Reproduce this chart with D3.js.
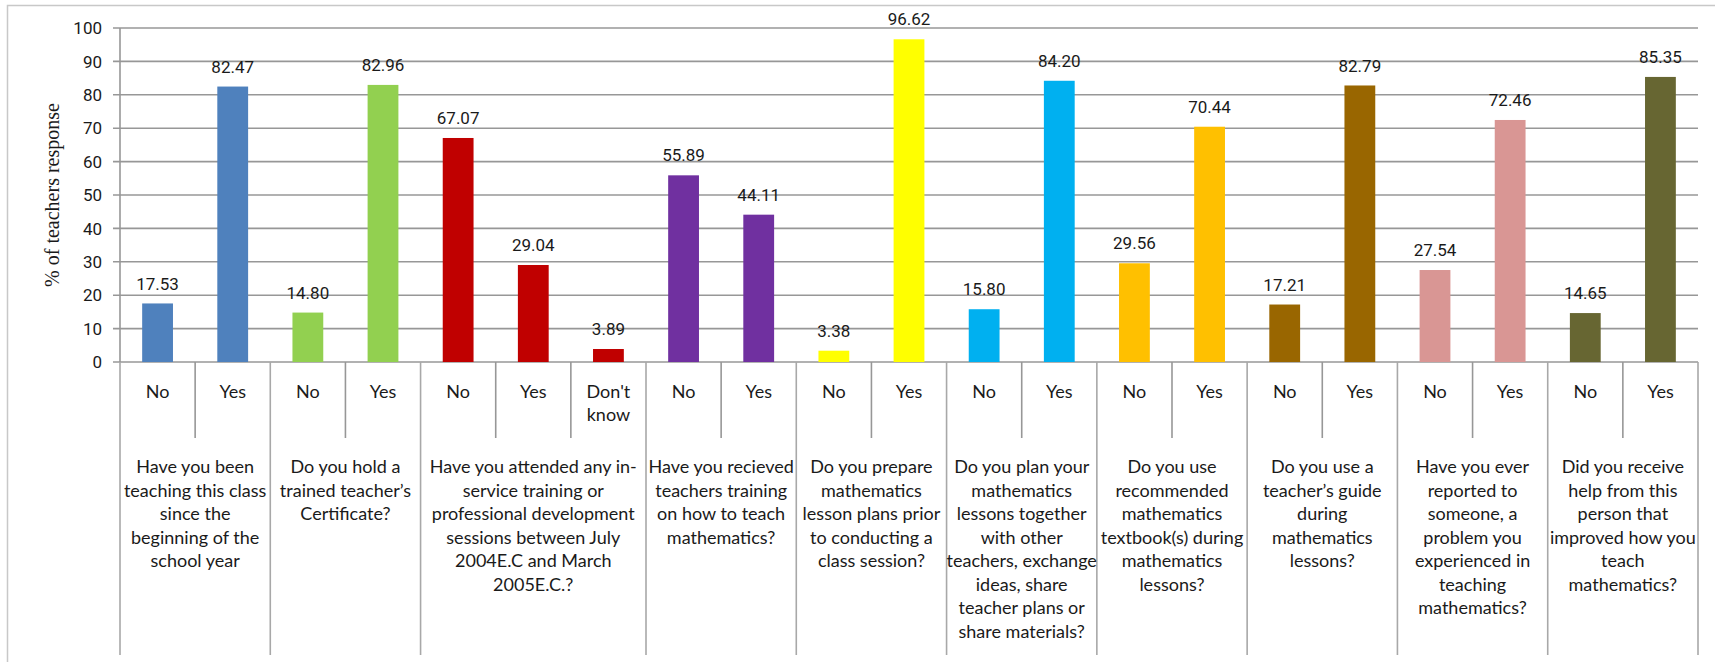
<!DOCTYPE html>
<html><head><meta charset="utf-8">
<script src="https://cdn.jsdelivr.net/npm/d3@7"></script>
<style>body{margin:0;background:#fff}svg{display:block}</style>
</head><body>
<svg id="c" width="1715" height="662"></svg>
<script>
const subLabels = [["No"],["Yes"],["No"],["Yes"],["No"],["Yes"],["Don't","know"],["No"],["Yes"],["No"],["Yes"],["No"],["Yes"],["No"],["Yes"],["No"],["Yes"],["No"],["Yes"],["No"],["Yes"]];
const values = [17.53,82.47,14.80,82.96,67.07,29.04,3.89,55.89,44.11,3.38,96.62,15.80,84.20,29.56,70.44,17.21,82.79,27.54,72.46,14.65,85.35];
const groupOf = [0,0,1,1,2,2,2,3,3,4,4,5,5,6,6,7,7,8,8,9,9];
const groupLabels = [
 ["Have you been","teaching this class","since the","beginning of the","school year"],
 ["Do you hold a","trained teacher’s","Certificate?"],
 ["Have you attended any in-","service training or","professional development","sessions between July","2004E.C and March","2005E.C.?"],
 ["Have you recieved","teachers training","on how to teach","mathematics?"],
 ["Do you prepare","mathematics","lesson plans prior","to conducting a","class session?"],
 ["Do you plan your","mathematics","lessons together","with other","teachers, exchange","ideas, share","teacher plans or","share materials?"],
 ["Do you use","recommended","mathematics","textbook(s) during","mathematics","lessons?"],
 ["Do you use a","teacher’s guide","during","mathematics","lessons?"],
 ["Have you ever","reported to","someone, a","problem you","experienced in","teaching","mathematics?"],
 ["Did you receive","help from this","person that","improved how you","teach","mathematics?"]
];
const groupColors = ["#4F81BD","#92D050","#C00000","#7030A0","#FFFF00","#00B0F0","#FFC000","#996600","#D99694","#676632"];
const yTicks = [0,10,20,30,40,50,60,70,80,90,100];
const yTitle = "% of teachers response";

const svg = d3.select("#c");
const L=120, R=1698, T=28, B=362;
const x = d3.scaleBand().domain(d3.range(values.length)).range([L,R]);
const y = d3.scaleLinear().domain([0,100]).range([B,T]);
const grid = "#979797";

// outer frame
svg.append("path").attr("d","M7.5,662 V5.5 H1715").attr("fill","none").attr("stroke","#c8c8c8").attr("stroke-width",1.5);

// gridlines
svg.append("g").selectAll("line").data(yTicks).join("line")
  .attr("x1",L-7).attr("x2",R).attr("y1",d=>y(d)).attr("y2",d=>y(d))
  .attr("stroke",grid).attr("stroke-width",1.6);
// y axis line
svg.append("line").attr("x1",L).attr("x2",L).attr("y1",T).attr("y2",B).attr("stroke",grid).attr("stroke-width",1.6);
// tick labels
svg.append("g").selectAll("text").data(yTicks).join("text")
  .attr("x",102).attr("y",d=>y(d)).attr("dy","0.36em").attr("text-anchor","end")
  .attr("font-family","Roboto").attr("font-size",17).attr("fill","#1a1a1a").text(d=>d);
// y title
svg.append("text").attr("transform",`translate(52,${(T+B)/2-0}) rotate(-90)`).attr("text-anchor","middle")
  .attr("dy","0.35em").attr("font-family","Liberation Serif").attr("font-size",20).attr("fill","#1a1a1a").text(yTitle);

// bars
const bw = x.bandwidth()*0.41;
svg.append("g").selectAll("rect").data(values).join("rect")
  .attr("x",(d,i)=>x(i)+(x.bandwidth()-bw)/2).attr("width",bw)
  .attr("y",d=>y(d)).attr("height",d=>B-y(d))
  .attr("fill",(d,i)=>groupColors[groupOf[i]]);
// value labels
svg.append("g").selectAll("text").data(values).join("text")
  .attr("x",(d,i)=>x(i)+x.bandwidth()/2).attr("y",d=>y(d)-20).attr("dy","0.36em")
  .attr("text-anchor","middle").attr("font-family","Roboto").attr("font-size",17).attr("fill","#1a1a1a")
  .text(d=>d.toFixed(2));

// separators
const bounds = d3.range(values.length+1);
bounds.forEach(i=>{
  const xx = i<values.length ? x(i) : R;
  const isGroup = i===0 || i===values.length || groupOf[i]!==groupOf[i-1];
  svg.append("line").attr("x1",xx).attr("x2",xx).attr("y1",B).attr("y2",isGroup?655:438)
    .attr("stroke",isGroup?"#a8a8a8":"#979797").attr("stroke-width",1.6);
});
// sub labels
const catFont = "Lato";
const catSize = 18;
svg.append("g").selectAll("text").data(subLabels).join("text")
  .attr("x",(d,i)=>x(i)+x.bandwidth()/2).attr("y",392).attr("text-anchor","middle")
  .attr("font-family",catFont).attr("font-size",catSize).attr("fill","#1a1a1a")
  .each(function(d){
    const t=d3.select(this);
    d.forEach((s,k)=>t.append("tspan").attr("x",t.attr("x")).attr("y",392+k*22.5).attr("dy","0.36em").text(s));
  });
// group labels
groupLabels.forEach((lines,g)=>{
  const idx = groupOf.map((v,i)=>v===g?i:-1).filter(i=>i>=0);
  const cx = (x(idx[0]) + x(idx[idx.length-1])+x.bandwidth())/2;
  const t = svg.append("text").attr("text-anchor","middle").attr("font-family",catFont).attr("font-size",catSize).attr("fill","#1a1a1a");
  lines.forEach((s,k)=>t.append("tspan").attr("x",cx).attr("y",467+k*23.5).attr("dy","0.36em").text(s));
});
</script>
</body></html>
